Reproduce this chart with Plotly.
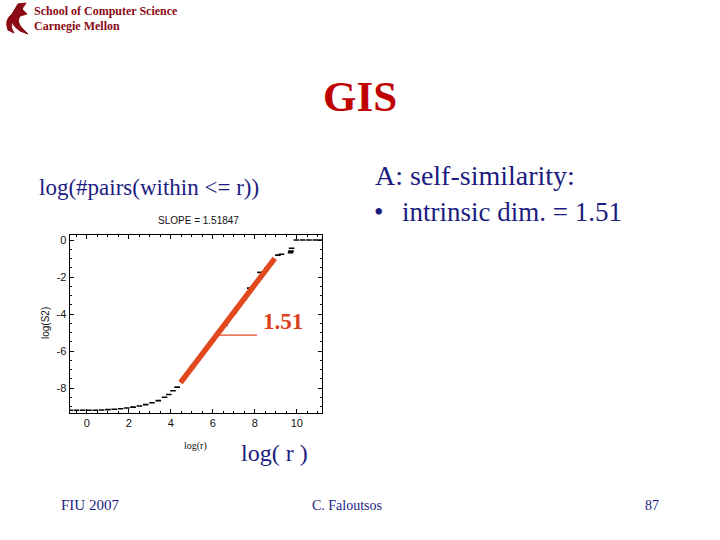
import plotly.graph_objects as go

# ---- data ----
pts_x = [-0.8, -0.5, -0.2, 0.1, 0.4, 0.7, 1.0, 1.3, 1.6, 1.9, 2.2, 2.5, 2.8, 3.1, 3.4, 3.7, 3.9, 4.1, 4.3,
         4.6, 5.0, 5.5, 6.0, 6.57, 7.0, 7.5, 7.76, 8.24, 8.6,
         9.1, 9.27, 9.7, 9.72, 9.75,
         9.98, 10.28, 10.58, 10.88, 11.15]
pts_y = [-9.2, -9.2, -9.2, -9.2, -9.2, -9.19, -9.17, -9.15, -9.12, -9.08, -9.03, -8.97, -8.9, -8.8, -8.68, -8.5, -8.35, -8.15, -7.95,
         -7.5, -6.9, -6.15, -5.4, -4.62, -3.95, -3.2, -2.6, -1.75, -1.5,
         -0.82, -0.77, -0.68, -0.6, -0.45,
         0.0, 0.0, 0.0, 0.0, 0.0]
fit_x = [4.46, 8.95]
fit_y = [-7.71, -0.99]
slope_label = "1.51"
x_ticks = [0, 2, 4, 6, 8, 10]
x_ticktext = ["0", "2", "4", "6", "8", "10"]
y_ticks = [-8, -6, -4, -2, 0]
y_ticktext = ["-8", "-6", "-4", "-2", "0"]

W, H = 720, 540
def px(x):
    return x / W
def py(y):
    return 1 - y / H

NAVY = "#1c1c80"
SERIF = "Liberation Serif, Times New Roman, serif"
SANS = "Liberation Sans, Arial, sans-serif"
CMU = "#8b0a14"

fig = go.Figure()
fig.add_trace(go.Scatter(
    x=pts_x, y=pts_y, mode="markers",
    marker=dict(symbol="line-ew", size=4, line=dict(width=1.6, color="black"), color="black"),
    hoverinfo="skip", showlegend=False))
fig.add_trace(go.Scatter(
    x=fit_x, y=fit_y, mode="lines",
    line=dict(color="rgb(226,72,30)", width=5.5),
    hoverinfo="skip", showlegend=False))

# leader line for slope label
fig.add_shape(type="line", xref="x", yref="y", x0=6.24, x1=8.1, y0=-5.14, y1=-5.14,
              line=dict(color="rgb(226,72,30)", width=1.2))

# small decorative logo (dragon-like silhouette) in the header
def P(x, y):
    return f"{px(x):.4f},{py(y):.4f}"
logo = ("M " + P(8, 30) + " Q " + P(4, 20) + " " + P(12, 14) + " L " + P(18, 4) + " L " + P(26, 3)
        + " L " + P(22, 9) + " L " + P(27, 14) + " L " + P(20, 16) + " Q " + P(16, 22) + " " + P(22, 28)
        + " L " + P(28, 34) + " L " + P(20, 31) + " Q " + P(14, 27) + " " + P(12, 22)
        + " Q " + P(10, 28) + " " + P(14, 33) + " Z")
fig.add_shape(type="path", xref="paper", yref="paper", path=logo,
              fillcolor=CMU, line=dict(color=CMU, width=1))

def note(xp, ypix, text, size, color, family=SERIF, anchor="center", angle=0):
    return dict(x=px(xp), y=py(ypix), xref="paper", yref="paper", text=text, showarrow=False,
                xanchor=anchor, yanchor="middle", textangle=angle,
                font=dict(family=family, size=size, color=color))

annotations = [
    dict(x=9.33, y=-4.43, xref="x", yref="y", text="<b>" + slope_label + "</b>", showarrow=False,
         font=dict(family=SERIF, size=23, color="rgb(218,64,28)")),
    note(198, 220, "SLOPE = 1.51847", 10, "#111", SANS),
    note(45, 323, "log(S2)", 10, "#111", SANS, angle=-90),
    note(195, 446, "log(r)", 10, "#111", SERIF),
    note(360, 96, "<b>GIS</b>", 43, "#c00000"),
    note(37, 188, "log(#pairs(within &lt;= r))", 23, NAVY, anchor="left"),
    note(373, 175, "A: self-similarity:", 28, NAVY, anchor="left"),
    note(372, 212, "•", 27, NAVY, anchor="left"),
    note(400, 212, "intrinsic dim. = 1.51", 27, NAVY, anchor="left"),
    note(274, 453, "log( r )", 24, NAVY),
    note(90, 505, "FIU 2007", 15, NAVY),
    note(347, 505, "C. Faloutsos", 14, NAVY),
    note(652, 505, "87", 14, NAVY),
    note(32, 11, "<b>School of Computer Science</b>", 12, CMU, anchor="left"),
    note(32, 26, "<b>Carnegie Mellon</b>", 12, CMU, anchor="left"),
]

axis_common = dict(showgrid=False, zeroline=False, showline=True, linecolor="black", linewidth=1,
                   mirror="allticks", ticks="inside", ticklen=4, tickcolor="black",
                   tickfont=dict(family=SANS, size=11, color="#111"),
                   minor=dict(ticks="inside", ticklen=2, dtick=0.5, tickcolor="black"))

fig.update_layout(
    width=W, height=H, margin=dict(l=0, r=0, t=0, b=0),
    paper_bgcolor="white", plot_bgcolor="white",
    xaxis=dict(domain=[px(69.5), px(322)], range=[-0.83, 11.2], tickmode="array",
               tickvals=x_ticks, ticktext=x_ticktext, **axis_common),
    yaxis=dict(domain=[py(413), py(235)], range=[-9.35, 0.27], tickmode="array",
               tickvals=y_ticks, ticktext=y_ticktext, **axis_common),
    annotations=annotations,
)

fig.write_html("out.html", config={"displayModeBar": False},
               post_script="document.body.style.margin='0';")
